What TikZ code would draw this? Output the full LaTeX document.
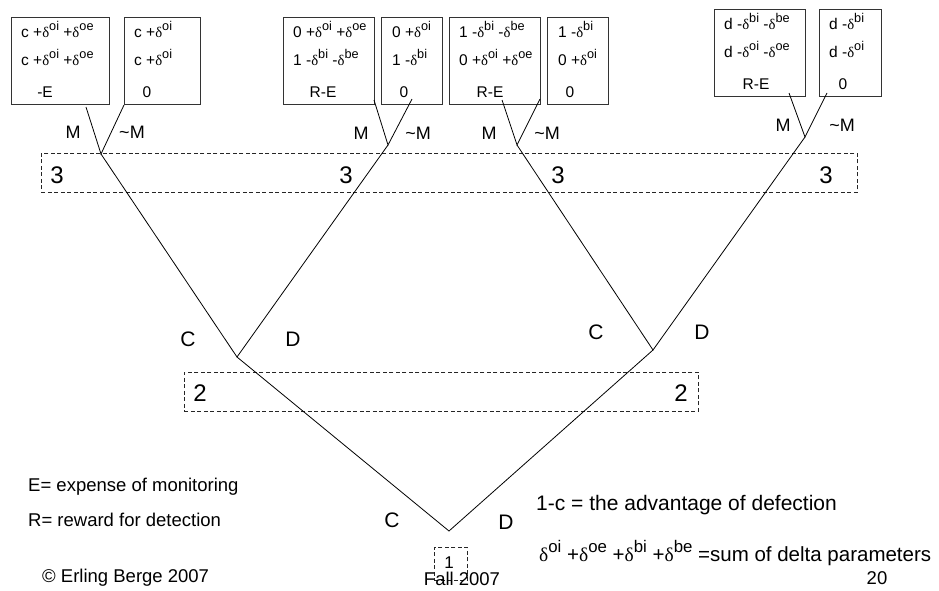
\documentclass[tikz,border=0pt]{standalone}
\usepackage{fontspec}
\setmainfont{Liberation Sans}
\newfontfamily\dfont[Scale=0.95]{Liberation Serif}
\newcommand\dd[1]{{\dfont δ}\raisebox{0.42em}{\scalebox{0.82}{#1}}}
\begin{document}
\begin{tikzpicture}[x=1pt,y=-1pt,
  payoff/.style={draw=black!80, line width=0.9pt, inner sep=0, anchor=north west, minimum height=87pt},
  infoset/.style={draw=black!85, line width=0.7pt, dash pattern=on 4pt off 2.5pt, inner sep=0, anchor=north west},
  edge/.style={line width=0.8pt, black},
  bt/.style={font=\fontsize{15.5}{17}\selectfont, inner sep=0, anchor=base west},
  btc/.style={font=\fontsize{15.5}{17}\selectfont, inner sep=0, anchor=base},
  mlab/.style={font=\fontsize{18}{20}\selectfont, inner sep=0},
  cdlab/.style={font=\fontsize{21}{23}\selectfont, inner sep=0},
  numlab/.style={font=\fontsize{24}{26}\selectfont, inner sep=0},
  note/.style={font=\fontsize{18.5}{20}\selectfont, inner sep=0, anchor=west},
  bignote/.style={font=\fontsize{21}{23}\selectfont, inner sep=0, anchor=west}
]
\useasboundingbox[fill=white] (0,0) rectangle (939,590);

% information sets
\node[infoset, minimum width=816pt, minimum height=39pt] (I3) at (41,153) {};
\node[infoset, minimum width=514pt, minimum height=39pt] (I2) at (184,372) {};
\node[infoset, minimum width=33pt, minimum height=33pt] (I1) at (434,547) {};
\node[numlab] (t3a) at (57,175) {3};
\node[numlab] (t3b) at (346,175) {3};
\node[numlab] (t3c) at (558,175) {3};
\node[numlab] (t3d) at (826,175) {3};
\node[numlab] (t2a) at (200,393) {2};
\node[numlab] (t2b) at (681,393) {2};
\node[font=\fontsize{17}{19}\selectfont, inner sep=0] (t1) at (449,563) {1};

% payoff boxes
\node[payoff, minimum width=98pt] (b1) at (11,17) {};
\node[payoff, minimum width=76pt] (b2) at (124,17) {};
\node[payoff, minimum width=91pt] (b3) at (283,17) {};
\node[payoff, minimum width=61pt] (b4) at (381,17) {};
\node[payoff, minimum width=91pt] (b5) at (449,17) {};
\node[payoff, minimum width=61pt] (b6) at (547,17) {};
\node[payoff, minimum width=91pt] (b7) at (714,9) {};
\node[payoff, minimum width=62pt] (b8) at (819,9) {};

% box texts
\node[bt] (p1a) at (21,37) {c +\dd{oi} +\dd{oe}};
\node[bt] (p1b) at (21,65) {c +\dd{oi} +\dd{oe}};
\node[btc] (p1c) at (45,97) {-E};
\node[bt] (p2a) at (134,37) {c +\dd{oi}};
\node[bt] (p2b) at (134,65) {c +\dd{oi}};
\node[btc] (p2c) at (147,97) {0};
\node[bt] (p3a) at (293,37) {0 +\dd{oi} +\dd{oe}};
\node[bt] (p3b) at (293,65) {1 -\dd{bi} -\dd{be}};
\node[btc] (p3c) at (323,97) {R-E};
\node[bt] (p4a) at (392,37) {0 +\dd{oi}};
\node[bt] (p4b) at (392,65) {1 -\dd{bi}};
\node[btc] (p4c) at (404,97) {0};
\node[bt] (p5a) at (459,37) {1 -\dd{bi} -\dd{be}};
\node[bt] (p5b) at (459,65) {0 +\dd{oi} +\dd{oe}};
\node[btc] (p5c) at (490,97) {R-E};
\node[bt] (p6a) at (558,37) {1 -\dd{bi}};
\node[bt] (p6b) at (558,65) {0 +\dd{oi}};
\node[btc] (p6c) at (570,97) {0};
\node[bt] (p7a) at (724,29) {d -\dd{bi} -\dd{be}};
\node[bt] (p7b) at (724,57) {d -\dd{oi} -\dd{oe}};
\node[btc] (p7c) at (756,89) {R-E};
\node[bt] (p8a) at (829,29) {d -\dd{bi}};
\node[bt] (p8b) at (829,57) {d -\dd{oi}};
\node[btc] (p8c) at (843,89) {0};

% tree decision points
\coordinate (n1) at (449,531);
\coordinate (n2a) at (237,357);
\coordinate (n2b) at (653,350);
\coordinate (n3a) at (101,154);
\coordinate (n3b) at (388,145);
\coordinate (n3c) at (517,145);
\coordinate (n3d) at (805,137);
% leaf ends
\coordinate (l1) at (86,107);
\coordinate (l2) at (124,105);
\coordinate (l3) at (374,100);
\coordinate (l4) at (412,99);
\coordinate (l5) at (502,100);
\coordinate (l6) at (540,99);
\coordinate (l7) at (789,93);
\coordinate (l8) at (827,93);

\draw[edge] (n2a) -- (n1) -- (n2b);
\draw[edge] (n3a) -- (n2a) -- (n3b);
\draw[edge] (n3c) -- (n2b) -- (n3d);
\draw[edge] (l1) -- (n3a) -- (l2);
\draw[edge] (l3) -- (n3b) -- (l4);
\draw[edge] (l5) -- (n3c) -- (l6);
\draw[edge] (l7) -- (n3d) -- (l8);

% branch labels
\node[mlab] (m1) at (73,132) {M};
\node[mlab] (nm1) at (132,132) {\char`\~M};
\node[mlab] (m2) at (361,133) {M};
\node[mlab] (nm2) at (418,133) {\char`\~M};
\node[mlab] (m3) at (489,133) {M};
\node[mlab] (nm3) at (547,133) {\char`\~M};
\node[mlab] (m4) at (783,125) {M};
\node[mlab] (nm4) at (842,125) {\char`\~M};
\node[cdlab] (c2a) at (188,339) {C};
\node[cdlab] (d2a) at (293,339) {D};
\node[cdlab] (c2b) at (596,332) {C};
\node[cdlab] (d2b) at (702,332) {D};
\node[cdlab] (c1) at (392,520) {C};
\node[cdlab] (d1) at (506,522) {D};

% notes
\node[note] (e) at (28,487) {E= expense of monitoring};
\node[note] (r) at (28,520) {R= reward for detection};
\node[bignote] (adv) at (536,505) {1-c = the advantage of defection};
\node[bignote, font=\fontsize{20.5}{22}\selectfont] (sum) at (539,553) {\dd{oi} +\dd{oe} +\dd{bi} +\dd{be} =sum of delta parameters};
\node[note] (copy) at (42,578) {© Erling Berge 2007};
\node[note, anchor=center] (fall) at (462,579) {Fall 2007};
\node[note, anchor=center] (pg) at (877,578) {20};
\end{tikzpicture}
\end{document}
